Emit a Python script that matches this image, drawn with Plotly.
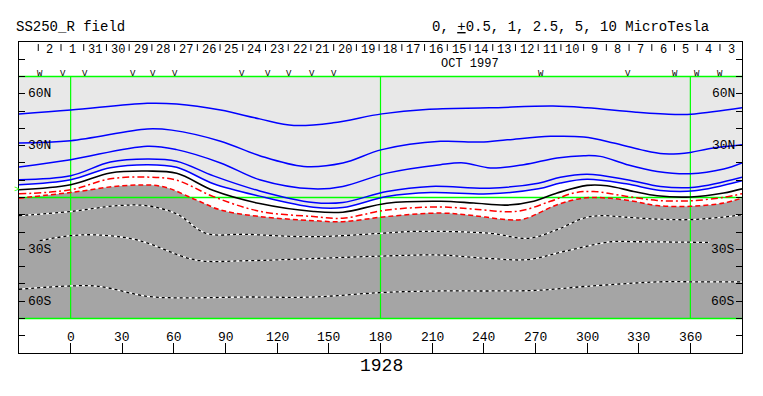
import plotly.graph_objects as go

# ---------------- data ----------------
LON_RANGE = [-30, 390]
LAT_RANGE = [-90, 90]
MAP_LAT = 70
GRID_LON = [0, 180, 360]
EQUATOR = 0

# positive contours (blue): 10, 5, 2.5, 1, 0.5 microTesla
C10_LON = [-30, 0, 44.5, 61.6, 87.1, 109.8, 129.7, 152.4, 180.8, 206.4, 243.3, 280.2, 300, 328.4, 351.1, 362.5, 390]
C10_LAT = [48.4, 50.6, 54.5, 54.1, 50.6, 45.5, 41.7, 43.2, 48.4, 51.0, 51.9, 52.9, 51.9, 49.4, 48.1, 48.4, 51.9]

C5_LON = [-30, 0, 44.5, 58.7, 87.1, 109.8, 135.4, 158.1, 180.8, 214.8, 238.1, 253.6, 278.7, 298.1, 315.5, 331, 344.5, 360, 370, 390]
C5_LAT = [31.6, 32.9, 39.7, 39.0, 32.6, 24.2, 18.0, 20.0, 27.7, 32.5, 32.1, 33.4, 35.4, 35.0, 31.5, 27.7, 25.3, 26.1, 28.1, 30.5]

C25_LON = [-30, 0, 44.5, 61.6, 87.1, 109.8, 141.0, 158.1, 183.7, 214.8, 228.4, 243.9, 263.2, 282.6, 298.1, 307.7, 323.3, 340.7, 360, 379.4, 390]
C25_LAT = [17.6, 21.9, 29.7, 27.7, 20.0, 10.3, 5.0, 6.4, 14.1, 19.0, 20.0, 17.1, 19.0, 22.9, 24.2, 23.8, 19.0, 15.1, 13.8, 16.5, 20.0]

C1_LON = [-30, 0, 23, 44.5, 61.6, 83, 109.8, 141.0, 158.1, 183.7, 209.2, 243.3, 271.7, 284.5, 300, 323.2, 342.6, 362.5, 390]
C1_LAT = [10.3, 12.6, 20.5, 22.3, 21.0, 12.5, 3.8, -2.9, -2.9, 3.5, 6.4, 5.4, 8.3, 11.7, 13.4, 10.3, 6.4, 6.0, 11.8]

C05_LON = [-30, 0, 23, 44.5, 61.6, 83, 109.8, 141.0, 158.1, 183.7, 209.2, 243.3, 271.7, 284.5, 300, 322.8, 342.6, 362.5, 390]
C05_LAT = [7.4, 10.3, 17.2, 19.0, 17.5, 8.0, 0.8, -5.6, -5.8, 0.6, 2.9, 2.1, 5.0, 8.4, 10.5, 7.9, 4.1, 3.9, 9.7]

# neutral line (black)
C0_LON = [-30, 0, 23, 44.5, 61.6, 83, 109.8, 141.0, 158.1, 183.7, 214.8, 234.2, 253.6, 269.0, 282.6, 300.0, 311.6, 327.1, 340.7, 360, 379.4, 390]
C0_LAT = [4.5, 7.4, 14.2, 15.3, 14.0, 4.0, -3.5, -8.1, -8.5, -3.3, -2.2, -3.2, -4.4, -2.2, 2.6, 7.0, 6.8, 3.5, 1.0, 0.3, 2.6, 5.0]

# negative contours (red): -0.5 dash-dot, -1 dashed (edge of dark region)
CM05_LON = [-30, 0, 23, 44.5, 61.6, 83, 109.8, 141.0, 158.1, 183.7, 214.8, 234.2, 259.4, 278.7, 292.3, 303.9, 323.3, 340.7, 360, 379.4, 390]
CM05_LAT = [2.1, 4.5, 10.8, 11.8, 10.0, 0.5, -8.0, -11.0, -12.0, -7.2, -5.5, -6.7, -8.0, -2.2, 2.6, 3.5, 0.6, -1.7, -1.9, 0.1, 2.2]

CM1_LON = [-30, 0, 30.3, 53.0, 72.9, 87.1, 109.8, 141.0, 158.1, 183.7, 214.8, 234.2, 253.6, 263.2, 282.6, 298.1, 311.6, 327.1, 340.7, 360, 379.4, 390]
CM1_LAT = [-0.4, 2.9, 6.8, 6.4, -1.4, -7.2, -11.0, -13.4, -14.0, -11.0, -9.0, -10.5, -12.8, -12.5, -4.2, -0.3, -0.3, -2.2, -4.7, -5.1, -3.2, -0.3]

# stronger negative contours (dotted): -2.5, -5, -10
CM25_LON = [-30, 0, 27.5, 44.5, 61.6, 78.6, 101.3, 141.0, 180.8, 200.7, 243.3, 266.0, 282.6, 298.1, 307.7, 321.4, 340.7, 360, 379.4, 390]
CM25_LAT = [-10.5, -8.1, -4.7, -4.8, -9.5, -20.7, -21.3, -22.7, -20.7, -19.6, -20.7, -23.6, -18.6, -11.9, -10.5, -11.3, -12.5, -12.8, -11.3, -10.0]

CM5_LON = [-18, 0, 16.1, 38.8, 72.9, 101.3, 141.0, 180.8, 214.9, 243.3, 266.0, 285.8, 314.2, 328.4, 371.0]
CM5_LAT = [-25.0, -22.1, -21.7, -24.6, -36.2, -36.6, -35.3, -33.9, -33.3, -35.3, -35.9, -31.4, -25.6, -25.6, -26.0]

CM10_LON = [-30, 0, 16.1, 44.5, 61.6, 101.3, 141.0, 180.8, 214.9, 243.3, 271.7, 300, 342.6, 362.5, 390]
CM10_LAT = [-53.1, -51.2, -51.4, -57.2, -58.1, -57.6, -57.6, -55.0, -54.1, -54.1, -53.7, -51.4, -48.8, -48.8, -48.8]

# axis labels
LON_TICKS = list(range(0, 361, 30))
LAT_TICKS = list(range(-80, 81, 10))
LAT_LABELS = {60: "60N", 30: "30N", -30: "30S", -60: "60S"}

# date strip
DAYS = [2, 1, 31, 30, 29, 28, 27, 26, 25, 24, 23, 22, 21, 20, 19, 18, 17, 16, 15,
        14, 13, 12, 11, 10, 9, 8, 7, 6, 5, 4, 3]
DAY0_LON = -12.2
DAY_STEP = 13.2
MONTH_LABEL = "OCT 1997"

# observation markers
MARK_LON = [-18, -4.6, 8.1, 36, 47.6, 60.4, 99.3, 114.4, 126.6, 140, 152.8, 273.5, 324, 351.3, 364, 377.4]
MARK_TXT = ["W", "V", "V", "V", "V", "V", "V", "V", "V", "V", "V", "W", "V", "W", "W", "W"]

TITLE_LEFT = "SS250_R field"
TITLE_RIGHT = "0, <u>+</u>0.5, 1, 2.5, 5, 10 MicroTesla"
ROTATION = "1928"

# ---------------- figure ----------------
# the page body adds an 8px offset, so the figure is 8px smaller and shifted
OFF = 8
W, H = 763 - OFF, 396 - OFF
ML, MR, MT, MB = 19 - OFF, 21, 42 - OFF, 43
PW, PH = W - ML - MR, H - MT - MB
FONT = "Liberation Mono"

def px(x):
    return (x - OFF - ML) / PW

def py(y):
    return (H - MB - (y - OFF)) / PH

LIGHT = "#e8e8e8"
DARK = "#a5a5a5"
BLUE = "#0000ff"
RED = "#ff0000"
GREEN = "#00ff00"

fig = go.Figure()

def baseline():
    fig.add_trace(go.Scatter(x=LON_RANGE, y=[-MAP_LAT, -MAP_LAT], mode="lines",
                             line=dict(width=0), hoverinfo="skip", showlegend=False))

# white band (below the 0.5 contour)
baseline()
fig.add_trace(go.Scatter(x=C05_LON, y=C05_LAT, mode="lines", fill="tonexty",
                         fillcolor="white", line=dict(width=0, shape="spline"),
                         hoverinfo="skip", showlegend=False))
# dark region (below -1 contour)
baseline()
fig.add_trace(go.Scatter(x=CM1_LON, y=CM1_LAT, mode="lines", fill="tonexty",
                         fillcolor=DARK, line=dict(width=0, shape="spline"),
                         hoverinfo="skip", showlegend=False))

# green reference lines
for lon in GRID_LON:
    fig.add_trace(go.Scatter(x=[lon, lon], y=[-MAP_LAT, MAP_LAT], mode="lines",
                             line=dict(color=GREEN, width=1.2), hoverinfo="skip", showlegend=False))
for lat in [-MAP_LAT, EQUATOR, MAP_LAT]:
    fig.add_trace(go.Scatter(x=LON_RANGE, y=[lat, lat], mode="lines",
                             line=dict(color=GREEN, width=1.5), hoverinfo="skip", showlegend=False))

# dotted strong negative contours
for lons, lats in [(CM25_LON, CM25_LAT), (CM5_LON, CM5_LAT), (CM10_LON, CM10_LAT)]:
    fig.add_trace(go.Scatter(x=lons, y=lats, mode="lines",
                             line=dict(color="white", width=1.3, shape="spline"),
                             hoverinfo="skip", showlegend=False))
    fig.add_trace(go.Scatter(x=lons, y=lats, mode="lines",
                             line=dict(color="black", width=1.3, shape="spline", dash="3px,3px"),
                             hoverinfo="skip", showlegend=False))

# red negative contours
fig.add_trace(go.Scatter(x=CM1_LON, y=CM1_LAT, mode="lines",
                         line=dict(color=RED, width=1.5, shape="spline", dash="5px,3px"),
                         hoverinfo="skip", showlegend=False))
fig.add_trace(go.Scatter(x=CM05_LON, y=CM05_LAT, mode="lines",
                         line=dict(color=RED, width=1.5, shape="spline", dash="7px,3px,2px,3px"),
                         hoverinfo="skip", showlegend=False))
# neutral line
fig.add_trace(go.Scatter(x=C0_LON, y=C0_LAT, mode="lines",
                         line=dict(color="black", width=1.6, shape="spline"),
                         hoverinfo="skip", showlegend=False))
# blue positive contours
for lons, lats in [(C05_LON, C05_LAT), (C1_LON, C1_LAT), (C25_LON, C25_LAT),
                   (C5_LON, C5_LAT), (C10_LON, C10_LAT)]:
    fig.add_trace(go.Scatter(x=lons, y=lats, mode="lines",
                             line=dict(color=BLUE, width=1.5, shape="spline"),
                             hoverinfo="skip", showlegend=False))

# light map background
fig.add_shape(type="rect", x0=LON_RANGE[0], x1=LON_RANGE[1], y0=-MAP_LAT, y1=MAP_LAT,
              fillcolor=LIGHT, line=dict(width=0), layer="below")

TXT = dict(family=FONT, size=13, color="black")
ann = []
# latitude labels
for lat, txt in LAT_LABELS.items():
    ann.append(dict(x=LON_RANGE[0] + 4, y=lat, text=txt, xanchor="left", yanchor="middle",
                    showarrow=False, font=TXT))
    ann.append(dict(x=LON_RANGE[1] - 3, y=lat, text=txt, xanchor="right", yanchor="middle",
                    showarrow=False, font=TXT))
# longitude labels
for lon in LON_TICKS:
    ann.append(dict(x=lon, y=-81.3, text=str(lon), xanchor="center", yanchor="middle",
                    showarrow=False, font=TXT))
# day labels and separators
for i, d in enumerate(DAYS):
    lon = DAY0_LON + i * DAY_STEP
    ann.append(dict(x=lon, y=85.6, text=str(d), xanchor="center", yanchor="middle",
                    showarrow=False, borderpad=0, font=dict(family=FONT, size=12, color="black")))
for i in range(len(DAYS) + 1):
    lon = DAY0_LON + (i - 0.5) * DAY_STEP
    if LON_RANGE[0] < lon < LON_RANGE[1]:
        fig.add_shape(type="line", x0=lon, x1=lon, y0=84.8, y1=88.8,
                      line=dict(color="black", width=1))
ann.append(dict(x=232, y=77.0, text=MONTH_LABEL, xanchor="center", yanchor="middle",
                showarrow=False, borderpad=0, font=dict(family=FONT, size=12, color="black")))
# markers
for lon, t in zip(MARK_LON, MARK_TXT):
    ann.append(dict(x=lon, y=71.6, text=t, xanchor="center", yanchor="middle",
                    showarrow=False, borderpad=0, font=dict(family=FONT, size=9, color="black")))
# titles
ann.append(dict(xref="paper", yref="paper", x=px(14), y=py(27), text=TITLE_LEFT,
                xanchor="left", yanchor="middle", showarrow=False,
                font=dict(family=FONT, size=14, color="black")))
ann.append(dict(xref="paper", yref="paper", x=px(430), y=py(27), text=TITLE_RIGHT,
                xanchor="left", yanchor="middle", showarrow=False,
                font=dict(family=FONT, size=14, color="black")))
ann.append(dict(xref="paper", yref="paper", x=px(381), y=py(366), text=ROTATION,
                xanchor="center", yanchor="middle", showarrow=False,
                font=dict(family=FONT, size=18, color="black")))
ann.append(dict(xref="paper", yref="paper", x=px(16), y=py(190), text=">",
                xanchor="center", yanchor="middle", showarrow=False,
                font=dict(family=FONT, size=9, color=GREEN)))

fig.update_layout(
    width=W, height=H,
    margin=dict(l=ML, r=MR, t=MT, b=MB, pad=0),
    paper_bgcolor="white", plot_bgcolor="white",
    showlegend=False,
    annotations=ann,
    xaxis=dict(range=LON_RANGE, showgrid=False, zeroline=False,
               tickmode="array", tickvals=LON_TICKS, ticks="inside", ticklen=10,
               tickcolor="black", showticklabels=False,
               showline=True, linecolor="black", linewidth=1.2, mirror=True),
    yaxis=dict(range=LAT_RANGE, showgrid=False, zeroline=False,
               tickmode="array", tickvals=LAT_TICKS, ticks="inside", ticklen=6,
               tickcolor="black", showticklabels=False,
               showline=True, linecolor="black", linewidth=1.2, mirror="ticks"),
)

fig.write_html("out.html")
